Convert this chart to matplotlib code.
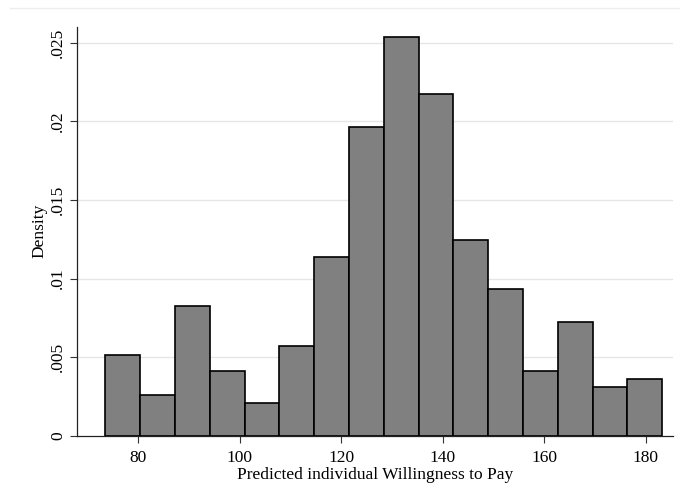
import numpy as np
import matplotlib
matplotlib.use("Agg")
import matplotlib.pyplot as plt
from matplotlib.lines import Line2D

# histogram: 16 bins from 73.56 to 183.25
bin_left = 73.56
bin_width = 6.856
density = [0.00515, 0.00257, 0.00827, 0.00413, 0.00206, 0.00569, 0.01139, 0.01966,
           0.02538, 0.02172, 0.01245, 0.00931, 0.00413, 0.00725, 0.00312, 0.00363]
xticks = [80, 100, 120, 140, 160, 180]
yticks = [0, 0.005, 0.01, 0.015, 0.02, 0.025]
ytick_labels = ["0", ".005", ".01", ".015", ".02", ".025"]

plt.rcParams['font.family'] = ['Liberation Serif', 'DejaVu Serif']

fig = plt.figure(figsize=(6.8, 4.98), dpi=100)
ax = fig.add_axes([77.3/680, 1-435.7/498, (673-77.3)/680, (435.7-26.7)/498])

edges = bin_left + bin_width*np.arange(len(density))
ax.bar(edges, density, width=bin_width, align='edge', color='#808080',
       edgecolor='black', linewidth=1.2, zorder=3)

ax.set_xlim(68.04, 185.4)
ax.set_ylim(0, 0.02602)
ax.set_xticks(xticks)
ax.set_yticks(yticks)
ax.set_yticklabels(ytick_labels, rotation=90, va='center')
ax.tick_params(axis='both', labelsize=12.5, length=5, width=0.8, color='#333333')
ax.tick_params(axis='x', pad=5)
ax.tick_params(axis='y', pad=3)

for y in yticks[1:]:
    ax.axhline(y, color='#e6e6e6', linewidth=1.0, zorder=0)

for s in ['top', 'right']:
    ax.spines[s].set_visible(False)
for s in ['left', 'bottom']:
    ax.spines[s].set_linewidth(0.9)
    ax.spines[s].set_color('#222222')

ax.set_xlabel('Predicted individual Willingness to Pay', fontsize=12.5, labelpad=1)
ax.set_ylabel('Density', fontsize=12.5)
ax.yaxis.set_label_coords(-0.05, 0.5)

# faint outer border line at the top of the graph region
fig.add_artist(Line2D([10/680, 1], [1-8/498, 1-8/498], transform=fig.transFigure,
                      color='#eeeeee', linewidth=1.0))

fig.savefig('out.png', dpi=100)
